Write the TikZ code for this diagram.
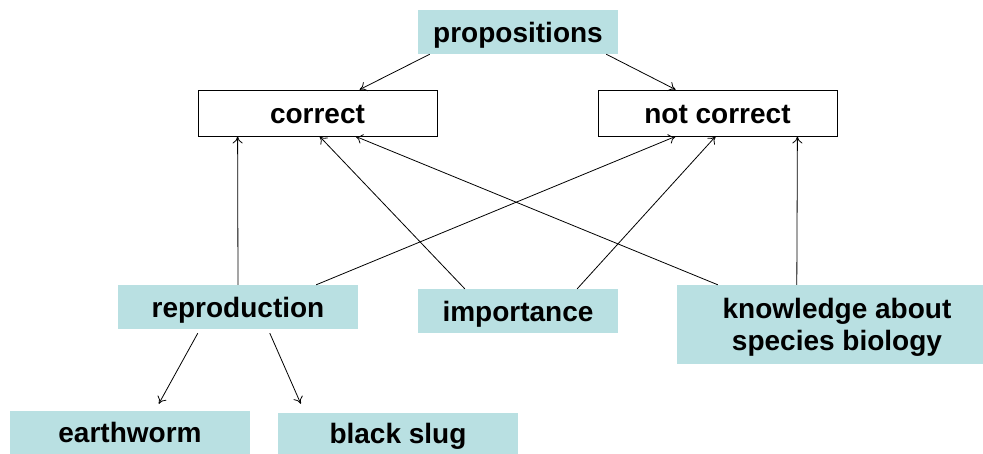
\documentclass[tikz,border=0pt]{standalone}
\usepackage{fontspec}
\setmainfont{Liberation Sans}
\usetikzlibrary{arrows.meta}
\definecolor{boxblue}{RGB}{185,224,226}
\tikzset{
  concept/.style={fill=boxblue, inner sep=0pt, align=center, text depth=0pt,
    font=\fontsize{28}{32}\selectfont\bfseries},
  verdict/.style={draw, fill=white, line width=0.8pt, inner sep=0pt,
    text height=21pt, text depth=0pt,
    minimum width=239pt, minimum height=46pt,
    font=\fontsize{28}{32}\selectfont\bfseries},
  link/.style={->, line width=0.8pt},
}
\begin{document}
\begin{tikzpicture}[x=1pt, y=-1pt, >={To[length=7pt, width=10pt]}]
\useasboundingbox (0,0) rectangle (983,454);

\node [concept, minimum width=200pt, minimum height=44pt] (prop) at (518,32) {propositions};
\node [verdict] (correct) at (317.5,113) {correct};
\node [verdict] (notcorrect) at (717.5,113) {not correct};

\node [concept, minimum width=240pt, minimum height=44pt] (repro) at (238,307) {reproduction};
\node [concept, minimum width=200pt, minimum height=44pt] (import) at (518,311) {importance};
% box runs off the right edge
\node [concept, minimum width=320pt, minimum height=79pt] (know) at (837,324.5)
  {knowledge about\\species biology};

\node [concept, minimum width=240pt, minimum height=43pt] (earth) at (130,432.5) {earthworm};
\node [concept, minimum width=240pt, minimum height=41pt] (slug) at (398,433.5) {black slug};

%%%%%%%%%%%%%%%%%%%%%%%%%%%%%%%%%%%%%%%%

\draw [link] ([xshift=12]prop.south west) -- ([xshift=162]correct.north west);
\draw [link] ([xshift=-12]prop.south east) -- ([xshift=78]notcorrect.north west);

\draw [link] (repro.north) -- ([xshift=40]correct.south west);
\draw [link] ([xshift=-42]repro.north east) -- ([xshift=78]notcorrect.south west);
\draw [link] ([xshift=47]import.north west) -- ([xshift=122]correct.south west);
\draw [link] ([xshift=-41]import.north east) -- ([xshift=118]notcorrect.south west);
\draw [link] ([xshift=41]know.north west) -- ([xshift=158]correct.south west);
\draw [link] ([xshift=120]know.north west) -- ([xshift=-40]notcorrect.south east);

\draw [link] ([xshift=80, yshift=-4]repro.south west) -- ([xshift=149, yshift=7]earth.north west);
\draw [link] ([xshift=152, yshift=-4]repro.south west) -- ([xshift=23, yshift=9]slug.north west);

\end{tikzpicture}
\end{document}
